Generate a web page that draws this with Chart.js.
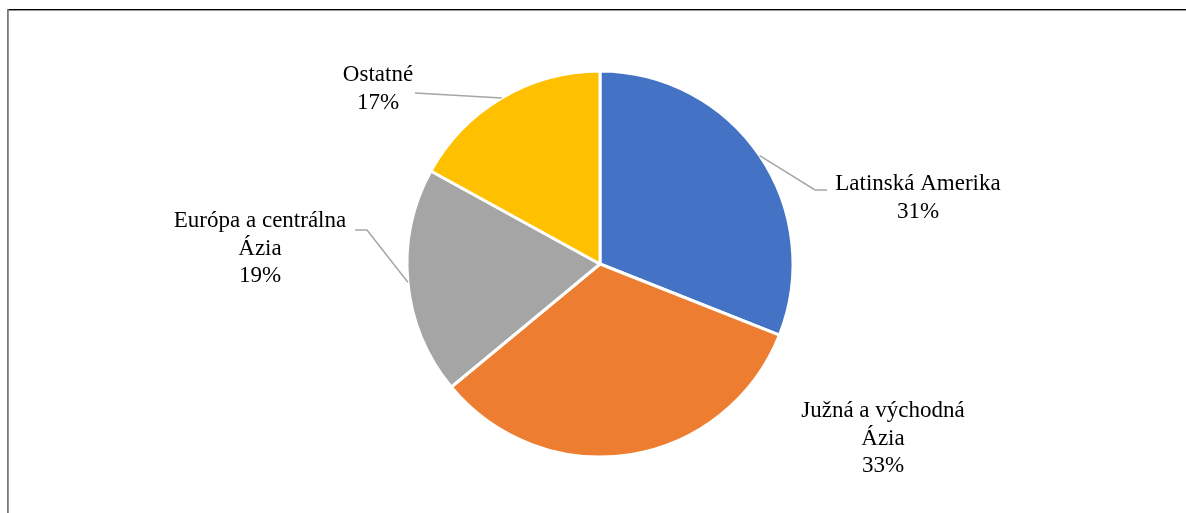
<!DOCTYPE html>
<html>
<head>
<meta charset="utf-8">
<script src="https://cdn.jsdelivr.net/npm/chart.js@4.4.1/dist/chart.umd.min.js"></script>
<style>
  html, body { margin: 0; padding: 0; background: #ffffff; }
  #wrap { position: relative; width: 1186px; height: 513px; }
  canvas { display: block; }
</style>
</head>
<body>
<div id="wrap"><canvas id="c" width="1186" height="513"></canvas></div>
<script>
// ---- data ----
const categories = ["Latinská Amerika", "Južná a východná Ázia", "Európa a centrálna Ázia", "Ostatné"];
const labelLines = [["Latinská Amerika"], ["Južná a východná", "Ázia"], ["Európa a centrálna", "Ázia"], ["Ostatné"]];
const shares = [31, 33, 19, 17];
const colors = ["#4472C4", "#ED7D31", "#A5A5A5", "#FFC000"];

// label layout (text anchor, optional elbow + end of leader line)
const labelLayout = [
  { x: 918, y: 184, elbow: [815, 190], end: [827, 190] },
  { x: 883, y: 411, elbow: null, end: null },
  { x: 260, y: 221, elbow: [367, 230], end: [355, 230] },
  { x: 378, y: 75, elbow: null, end: [415, 93] }
];

const FONT = '23px "Liberation Serif", "Times New Roman", serif';
const LINE_H = 27.5;

const framePlugin = {
  id: 'frame',
  beforeDraw(chart) {
    const ctx = chart.ctx;
    ctx.save();
    ctx.fillStyle = '#000000';
    ctx.fillRect(8, 9, 1186 - 8, 1.4);
    ctx.fillStyle = '#7a7a7a';
    ctx.fillRect(7, 9, 1.8, 513 - 9);
    ctx.restore();
  }
};

const labelPlugin = {
  id: 'pieLabels',
  afterDatasetsDraw(chart) {
    const ctx = chart.ctx;
    const meta = chart.getDatasetMeta(0);
    const total = shares.reduce((a, b) => a + b, 0);
    ctx.save();
    meta.data.forEach((arc, i) => {
      const p = arc.getProps(['x', 'y', 'startAngle', 'endAngle', 'outerRadius'], true);
      const mid = (p.startAngle + p.endAngle) / 2;
      const sx = p.x + Math.cos(mid) * p.outerRadius;
      const sy = p.y + Math.sin(mid) * p.outerRadius;
      const L = labelLayout[i];
      if (L.end) {
        ctx.strokeStyle = '#a6a6a6';
        ctx.lineWidth = 1.5;
        ctx.beginPath();
        ctx.moveTo(sx, sy);
        if (L.elbow) ctx.lineTo(L.elbow[0], L.elbow[1]);
        ctx.lineTo(L.end[0], L.end[1]);
        ctx.stroke();
      }
      const pct = Math.round(shares[i] / total * 100) + '%';
      const lines = labelLines[i].concat([pct]);
      ctx.fillStyle = '#000000';
      ctx.font = FONT;
      ctx.textAlign = 'center';
      ctx.textBaseline = 'middle';
      lines.forEach((t, k) => ctx.fillText(t, L.x, L.y + k * LINE_H));
    });
    ctx.restore();
  }
};

new Chart(document.getElementById('c'), {
  type: 'pie',
  data: {
    labels: categories,
    datasets: [{
      data: shares,
      backgroundColor: colors,
      borderColor: '#ffffff',
      borderWidth: 3,
      radius: 193
    }]
  },
  options: {
    responsive: false,
    animation: false,
    rotation: 0,
    layout: { padding: { left: 214, right: 200, top: 65, bottom: 50 } },
    plugins: {
      legend: { display: false },
      tooltip: { enabled: false },
      title: { display: false }
    }
  },
  plugins: [framePlugin, labelPlugin]
});
</script>
</body>
</html>
